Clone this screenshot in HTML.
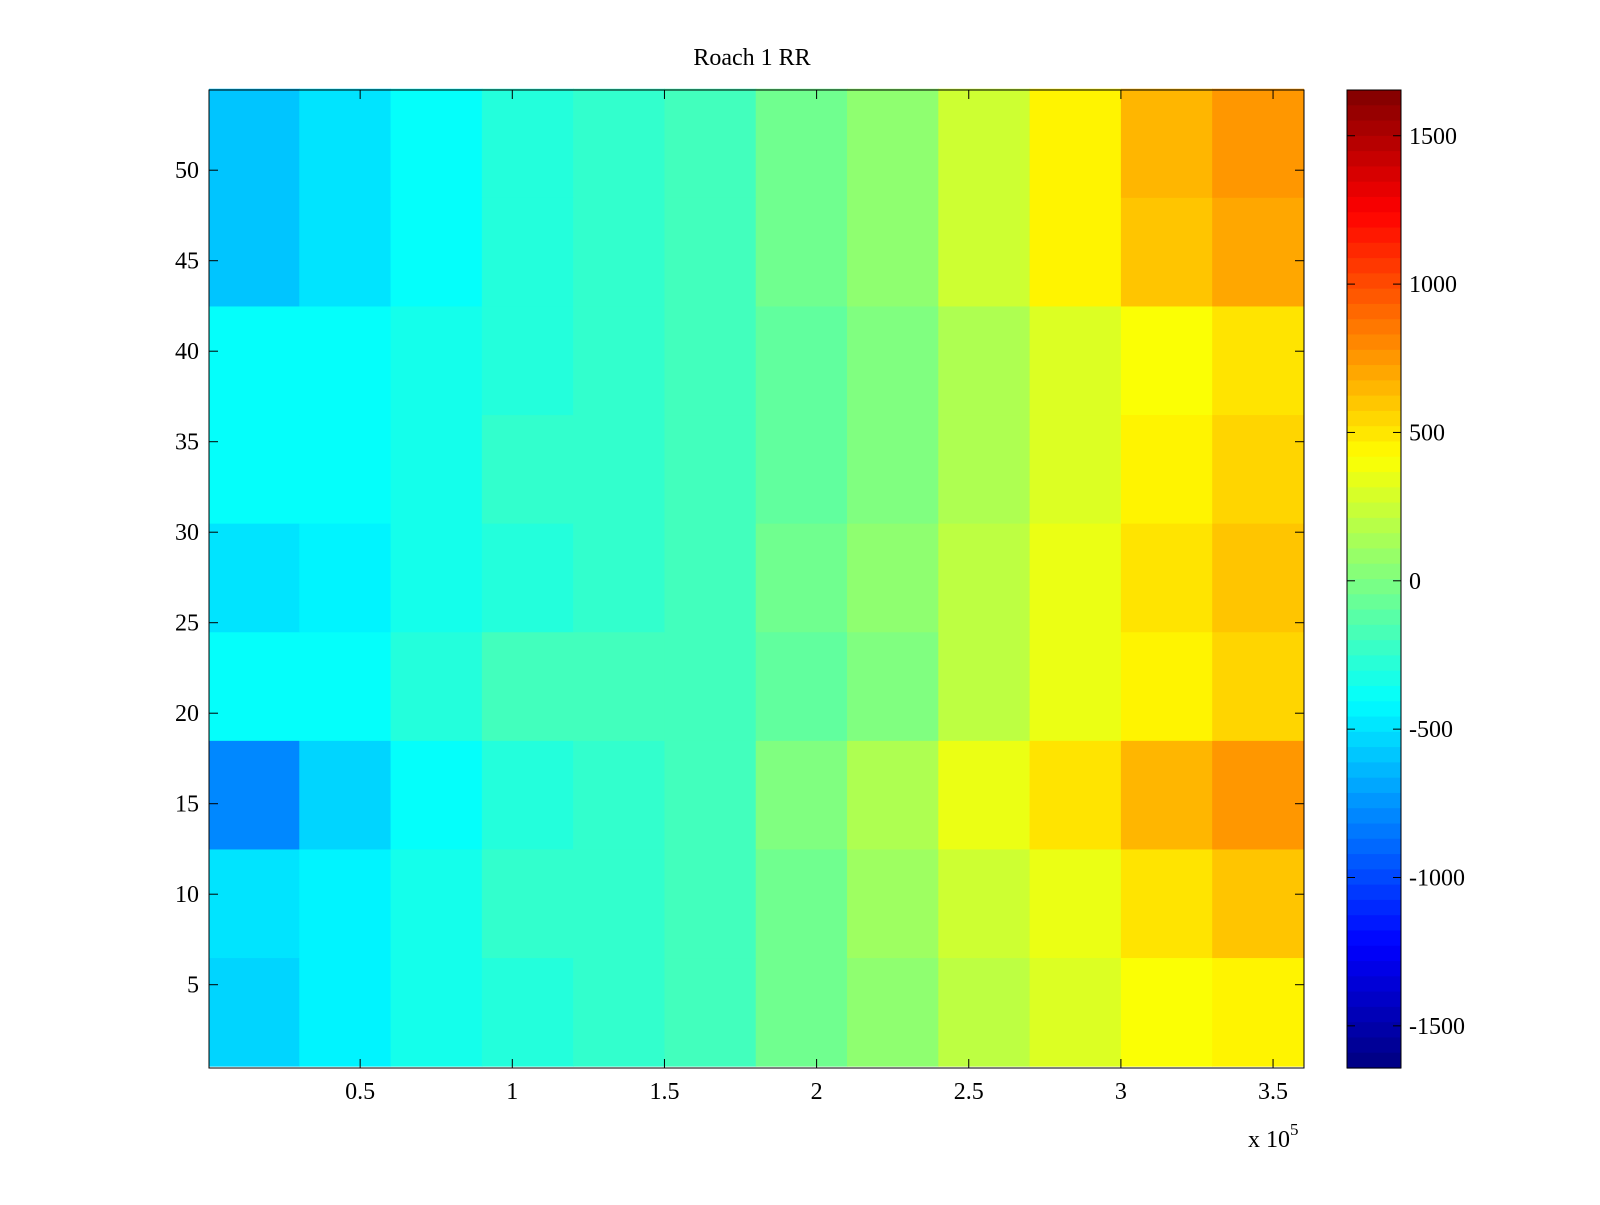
<!DOCTYPE html>
<html><head><meta charset="utf-8"><style>
body{margin:0;background:#fff;}
svg text{font-family:"Liberation Serif",serif;font-size:24px;fill:#000;}
</style></head><body>
<svg id="chart" width="1600" height="1200" xmlns="http://www.w3.org/2000/svg">
<rect width="1600" height="1200" fill="#fff"/>
<text x="752" y="65" text-anchor="middle">Roach 1 RR</text>
<g id="cells"></g>
<g id="cbar"></g>
<g id="axes"></g>
</svg>
<script>
// Row bands (6 rows each, bottom to top), columns of 0.3e5 width
const rowBands = [[1,6],[7,12],[13,18],[19,24],[25,30],[31,36],[37,42],[43,48],[49,54]];
const colStarts = [0,0.3,0.6,0.9,1.2,1.5,1.8,2.1,2.4,2.7,3.0,3.3];
const band1 = [-550,-450,-350,-300,-250,-200,-50,50,200,300,400,450];
const band2 = [-500,-450,-350,-250,-250,-200,-50,100,250,350,500,600];
const band3 = [-800,-550,-400,-300,-250,-200,0,150,350,500,650,750];
const band4 = [-400,-400,-300,-200,-200,-200,-100,0,200,350,450,550];
const band5 = [-500,-450,-350,-300,-250,-200,-50,50,200,350,500,600];
const band6 = [-400,-400,-350,-250,-250,-200,-100,0,150,300,450,550];
const band7 = [-400,-400,-350,-300,-250,-200,-100,0,150,300,400,500];
const band8 = [-600,-500,-400,-300,-250,-200,-50,50,250,450,600,700];
const band9 = [-600,-500,-400,-300,-250,-200,-50,50,250,450,650,750];
const bands = [band1,band2,band3,band4,band5,band6,band7,band8,band9];
const xTicks = [0.5,1,1.5,2,2.5,3,3.5];
const xTickLabels = ["0.5","1","1.5","2","2.5","3","3.5"];
const yTicks = [5,10,15,20,25,30,35,40,45,50];
const cTicks = [-1500,-1000,-500,0,500,1000,1500];
const cMin = -1654, cMax = 1654;

const L=209,R=1304,T=90,B=1068;
const xScale = v => 208 + v*304.3;
const yScale = v => 984.7 - (v-5)*18.1;
const cbL=1347,cbR=1401;
const cScale = v => 580.8 - v*0.2967;
const NS="http://www.w3.org/2000/svg";
function mk(tag,attrs,parent){const e=document.createElementNS(NS,tag);for(const k in attrs)e.setAttribute(k,attrs[k]);parent.appendChild(e);return e;}
function jet(t){t=Math.max(0,Math.min(1,t));
 const f=x=>Math.round(255*Math.max(0,Math.min(1,x)));
 return `rgb(${f(1.5-Math.abs(4*t-3))},${f(1.5-Math.abs(4*t-2))},${f(1.5-Math.abs(4*t-1))})`;}
const colorOf = v => jet((v-cMin)/(cMax-cMin));

const cells=document.getElementById('cells');
rowBands.forEach((rb,bi)=>{
  const y1=yScale(rb[1]+0.5), y2=yScale(rb[0]-0.5);
  colStarts.forEach((c,ci)=>{
    const x1=Math.max(L,xScale(c)), x2=Math.min(R,xScale(c+0.3));
    const r=mk('rect',{x:x1,y:y1,width:x2-x1+0.5,height:y2-y1+0.5,fill:colorOf(bands[bi][ci])},cells);
    
    
  });
});
const ax=document.getElementById('axes');
mk('rect',{x:L,y:T,width:R-L,height:B-T,fill:'none',stroke:'#000','stroke-width':1},ax);
xTicks.forEach((v,i)=>{const x=xScale(v);
 mk('line',{x1:x,x2:x,y1:B,y2:B-9,stroke:'#000'},ax);
 mk('line',{x1:x,x2:x,y1:T,y2:T+9,stroke:'#000'},ax);
 const t=mk('text',{x:x,y:1099,'text-anchor':'middle'},ax);t.textContent=xTickLabels[i];
 
 });
yTicks.forEach(v=>{const y=yScale(v);
 mk('line',{x1:L,x2:L+9,y1:y,y2:y,stroke:'#000'},ax);
 mk('line',{x1:R,x2:R-9,y1:y,y2:y,stroke:'#000'},ax);
 const t=mk('text',{x:199,y:y+8,'text-anchor':'end'},ax);t.textContent=v;
 
 });
const ex=mk('text',{x:1248,y:1147},ax);ex.innerHTML='x 10<tspan dy="-12" font-size="17">5</tspan>';


const cb=document.getElementById('cbar');
const n=64;
for(let i=0;i<n;i++){const y1=T+(B-T)*i/n;
 mk('rect',{x:cbL,y:y1,width:cbR-cbL,height:(B-T)/n+0.6,fill:jet(1-(i+0.5)/n)},cb);}
mk('rect',{x:cbL,y:T,width:cbR-cbL,height:B-T,fill:'none',stroke:'#000'},cb);
cTicks.forEach(v=>{const y=cScale(v);
 mk('line',{x1:cbL,x2:cbL+8,y1:y,y2:y,stroke:'#000'},cb);
 mk('line',{x1:cbR,x2:cbR-8,y1:y,y2:y,stroke:'#000'},cb);
 const t=mk('text',{x:1409,y:y+8},cb);t.textContent=v;
 
 });
</script>
</body></html>
